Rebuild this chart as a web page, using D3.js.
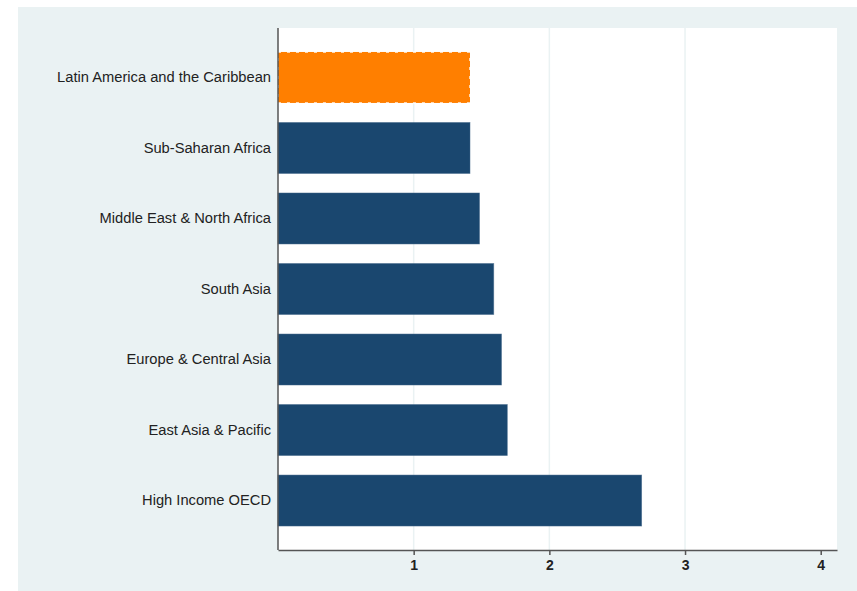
<!DOCTYPE html>
<html>
<head>
<meta charset="utf-8">
<script src="https://cdn.jsdelivr.net/npm/d3@7"></script>
<style>
body{margin:0;background:#fff}
</style>
</head>
<body>
<script>
const w=857
const h=591

// data
const regions=["Latin America and the Caribbean","Sub-Saharan Africa","Middle East & North Africa","South Asia","Europe & Central Asia","East Asia & Pacific","High Income OECD"]
const values=[1.415,1.415,1.485,1.59,1.647,1.69,2.68]
const highlight="Latin America and the Caribbean"
const xTicks=[1,2,3,4]

const plot={left:278,right:837,top:28,bottom:550}

const x=d3.scaleLinear()
    .domain([0,4.12])
    .range([plot.left,plot.right])

const y=d3.scaleBand()
    .domain(regions)
    .range([plot.top,plot.bottom])
    .paddingInner(0.277)
    .paddingOuter(0.34)

const svg=d3.create("svg")
    .attr("width",w)
    .attr("height",h)
    .style("font-family","'Liberation Sans', Arial, sans-serif")

//outer graph region
svg.append("rect")
    .attr("x",18).attr("y",7)
    .attr("width",w-18).attr("height",h-7)
    .attr("fill","#eaf2f3")

//plot region
svg.append("rect")
    .attr("x",plot.left).attr("y",plot.top)
    .attr("width",plot.right-plot.left).attr("height",plot.bottom-plot.top)
    .attr("fill","#fff")

//grid lines
svg.append("g")
    .selectAll("line")
    .data(xTicks.filter(d=>d<4))
    .enter()
    .append("line")
    .attr("x1",d=>x(d)).attr("x2",d=>x(d))
    .attr("y1",plot.top).attr("y2",plot.bottom)
    .attr("stroke","#eaf2f3")
    .attr("stroke-width",1.5)

//bars
svg.append("g")
    .selectAll("rect")
    .data(regions)
    .enter()
    .append("rect")
    .attr("x",x(0))
    .attr("y",d=>y(d))
    .attr("width",(d,i)=>x(values[i])-x(0))
    .attr("height",y.bandwidth())
    .attr("fill",d=>d==highlight ? "#ff7f00" : "#1a476f")
    .attr("stroke",d=>d==highlight ? "#fff" : "#3f6487")
    .attr("stroke-width",d=>d==highlight ? 1.5 : 0.8)
    .attr("stroke-dasharray",d=>d==highlight ? "3,6" : null)
    .attr("stroke-opacity",d=>d==highlight ? 0.9 : 0.6)

//x axis
const xAxis=svg.append("g")
    .attr("transform",`translate(0,${plot.bottom})`)
    .call(d3.axisBottom(x).tickValues(xTicks).tickFormat(d3.format("d")).tickSize(5).tickPadding(5).tickSizeOuter(0))
xAxis.select(".domain").attr("stroke","#555").attr("stroke-width",1.5)
xAxis.selectAll(".tick line").attr("stroke","#555").attr("stroke-width",1.5)
xAxis.selectAll(".tick text")
    .attr("fill","#222")
    .style("font-size","14px")
    .style("font-weight","bold")
    .style("font-family","'Liberation Sans', Arial, sans-serif")

//y axis
const yAxis=svg.append("g")
    .attr("transform",`translate(${plot.left},0)`)
    .call(d3.axisLeft(y).tickSize(0).tickPadding(7))
yAxis.select(".domain").attr("stroke","#555").attr("stroke-width",1.5)
    .attr("d",`M0,${plot.top}V${plot.bottom}`)
yAxis.selectAll(".tick text")
    .attr("fill","#222")
    .style("font-size","14.7px")
    .style("font-family","'Liberation Sans', Arial, sans-serif")

d3.select("body")
    .append(()=>svg.node())
</script>
</body>
</html>
